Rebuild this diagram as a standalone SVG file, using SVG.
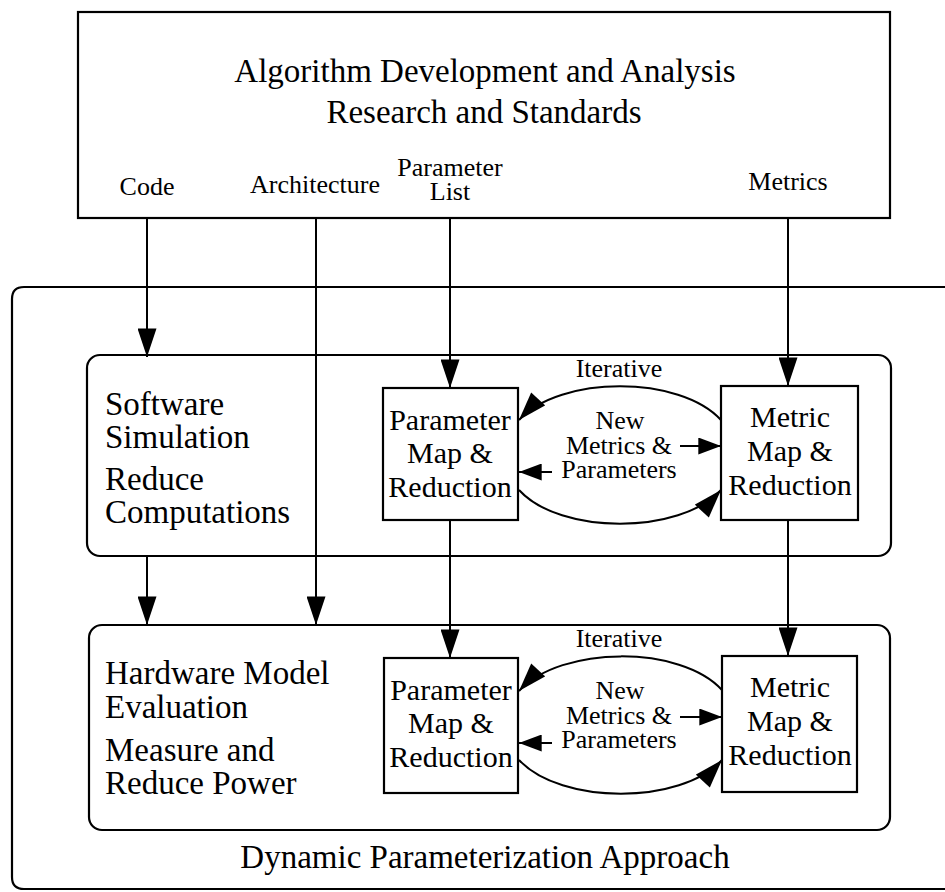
<svg xmlns="http://www.w3.org/2000/svg" width="945" height="892" viewBox="0 0 945 892">
<style>
.box{fill:#fff;stroke:#000;stroke-width:2.2}
.frame{fill:none;stroke:#000;stroke-width:2.2}
.ln{fill:none;stroke:#000;stroke-width:2}
.t{font-family:"Liberation Serif","Times New Roman",serif;fill:#000}
.big{font-size:33px}
.mid{font-size:30px}
.sm{font-size:26px}
.c{text-anchor:middle}
</style>
<defs>
<marker id="ah" markerUnits="userSpaceOnUse" viewBox="0 0 30 20" refX="30" refY="10" markerWidth="30" markerHeight="19" orient="auto">
<path d="M0,0 L30,10 L0,20 z" fill="#000"/>
</marker>
<marker id="as" markerUnits="userSpaceOnUse" viewBox="0 0 24 18" refX="24" refY="9" markerWidth="23" markerHeight="17" orient="auto">
<path d="M0,0 L24,9 L0,18 z" fill="#000"/>
</marker>
</defs>
<rect width="945" height="892" fill="#fff"/>

<g id="outer">
<path class="frame" d="M945,287 H24 Q12,287 12,299 V877 Q12,889 24,889 H945"/>
<text class="t big c" x="485" y="868">Dynamic Parameterization Approach</text>
</g>

<g id="top">
<rect class="box" x="78" y="12" width="812" height="206"/>
<text class="t big c" x="485" y="82">Algorithm Development and Analysis</text>
<text class="t big c" x="484" y="123">Research and Standards</text>
<text class="t sm c" x="147" y="195">Code</text>
<text class="t sm c" x="315" y="193">Architecture</text>
<text class="t sm c" x="450" y="176">Parameter</text>
<text class="t sm c" x="450" y="200">List</text>
<text class="t sm c" x="788" y="190">Metrics</text>
</g>

<g id="software">
<rect class="box" x="87" y="355" width="804" height="201" rx="13"/>
<text class="t big" x="105" y="415">Software</text>
<text class="t big" x="105" y="448">Simulation</text>
<text class="t big" x="105" y="490">Reduce</text>
<text class="t big" x="105" y="523">Computations</text>
</g>

<g id="hardware">
<rect class="box" x="89" y="625" width="801" height="205" rx="13"/>
<text class="t big" x="105" y="684">Hardware Model</text>
<text class="t big" x="105" y="718">Evaluation</text>
<text class="t big" x="105" y="761">Measure and</text>
<text class="t big" x="105" y="794">Reduce Power</text>
</g>

<g id="param1">
<rect class="box" x="383" y="388" width="135" height="132"/>
<text class="t mid c" x="450" y="430">Parameter</text>
<text class="t mid c" x="450" y="463">Map &amp;</text>
<text class="t mid c" x="450" y="497">Reduction</text>
</g>

<g id="metric1">
<rect class="box" x="721" y="386" width="137" height="134"/>
<text class="t mid c" x="790" y="427">Metric</text>
<text class="t mid c" x="790" y="461">Map &amp;</text>
<text class="t mid c" x="790" y="495">Reduction</text>
</g>

<g id="param2">
<rect class="box" x="384" y="658" width="134" height="135"/>
<text class="t mid c" x="451" y="700">Parameter</text>
<text class="t mid c" x="451" y="733">Map &amp;</text>
<text class="t mid c" x="451" y="767">Reduction</text>
</g>

<g id="metric2">
<rect class="box" x="722" y="656" width="135" height="136"/>
<text class="t mid c" x="790" y="697">Metric</text>
<text class="t mid c" x="790" y="731">Map &amp;</text>
<text class="t mid c" x="790" y="765">Reduction</text>
</g>

<g id="labels">
<text class="t sm c" x="619" y="377">Iterative</text>
<text class="t sm c" x="620" y="429">New</text>
<text class="t sm c" x="619" y="454">Metrics &amp;</text>
<text class="t sm c" x="619" y="478">Parameters</text>
<text class="t sm c" x="619" y="647">Iterative</text>
<text class="t sm c" x="620" y="699">New</text>
<text class="t sm c" x="619" y="724">Metrics &amp;</text>
<text class="t sm c" x="619" y="748">Parameters</text>
</g>

<g id="connectors">
<path class="ln" d="M147,218 V357" marker-end="url(#ah)"/>
<path class="ln" d="M316,218 V625" marker-end="url(#ah)"/>
<path class="ln" d="M450,218 V388" marker-end="url(#ah)"/>
<path class="ln" d="M788,218 V386" marker-end="url(#ah)"/>
<path class="ln" d="M147,556 V625" marker-end="url(#ah)"/>
<path class="ln" d="M450,520 V658" marker-end="url(#ah)"/>
<path class="ln" d="M788,520 V656" marker-end="url(#ah)"/>

<path class="ln" d="M721,420 C680,375 560,375 519,420" marker-end="url(#ah)"/>
<path class="ln" d="M519,490 C560,535 680,535 721,490" marker-end="url(#ah)"/>
<path class="ln" d="M680,446 H721" marker-end="url(#as)"/>
<path class="ln" d="M552,472 H519" marker-end="url(#as)"/>

<path class="ln" d="M722,690 C681,645 561,645 519,691" marker-end="url(#ah)"/>
<path class="ln" d="M519,760 C561,805 681,805 722,760" marker-end="url(#ah)"/>
<path class="ln" d="M680,717 H722" marker-end="url(#as)"/>
<path class="ln" d="M552,743 H519" marker-end="url(#as)"/>
</g>
</svg>
